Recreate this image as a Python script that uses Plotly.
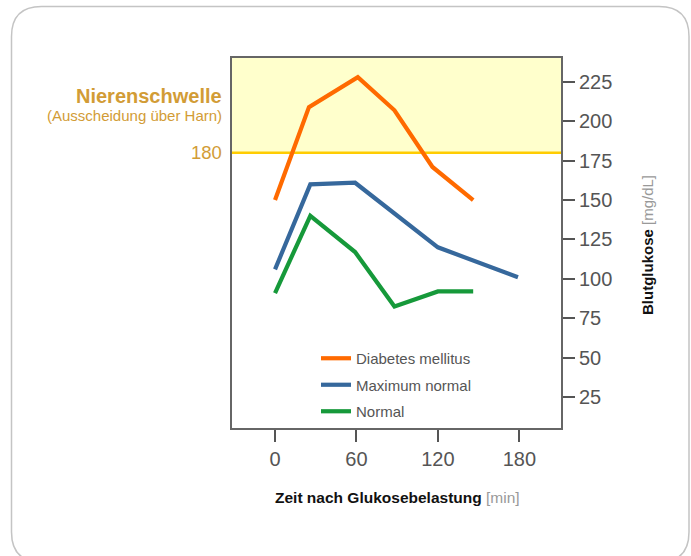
import plotly.graph_objects as go

# Blutglukose nach oraler Glukosebelastung
time_diabetes = [0, 25, 61, 88, 116, 146]
glucose_diabetes = [150, 209, 228, 207, 171, 150]

time_maxnormal = [0, 26, 59, 120, 179]
glucose_maxnormal = [106, 160, 161, 120, 101]

time_normal = [0, 26, 59, 88, 120, 146]
glucose_normal = [91, 140, 117, 82.5, 92, 92]

x_ticks = [0, 60, 120, 180]
y_ticks = [25, 50, 75, 100, 125, 150, 175, 200, 225]
threshold = 180

FONT = "Liberation Sans, Arial, sans-serif"
GOLD = "#d29c36"
W, H = 691, 556
ML, MR, MT, MB = 232, 130, 58, 128
PW, PH = W - ML - MR, H - MT - MB


def px(x):
    return (x - ML) / PW


def py(y):
    return (H - MB - y) / PH


fig = go.Figure()

fig.add_trace(go.Scatter(x=time_diabetes, y=glucose_diabetes, mode='lines',
                         name='Diabetes mellitus', legendgroup='a',
                         line=dict(color='#ff6a00', width=4.2)))
fig.add_trace(go.Scatter(x=time_maxnormal, y=glucose_maxnormal, mode='lines',
                         name='Maximum normal', legendgroup='b',
                         line=dict(color='#36689c', width=4.2)))
fig.add_trace(go.Scatter(x=time_normal, y=glucose_normal, mode='lines',
                         name='Normal', legendgroup='c',
                         line=dict(color='#16993a', width=4.2)))

# yellow zone above renal threshold
fig.add_shape(type='rect', xref='paper', yref='y', x0=0, x1=1,
              y0=threshold, y1=260, fillcolor='#ffffcc', line_width=0,
              layer='below')
fig.add_shape(type='line', xref='paper', yref='y', x0=0, x1=1,
              y0=threshold, y1=threshold, line=dict(color='#ffcc00', width=2.5),
              layer='below')

# rounded card border
l, r, t, b, rad = 11.5, 689, 6.5, 562, 30
path = (f"M {px(l + rad)},{py(t)} L {px(r - rad)},{py(t)} "
        f"Q {px(r)},{py(t)} {px(r)},{py(t + rad)} "
        f"L {px(r)},{py(b - rad)} Q {px(r)},{py(b)} {px(r - rad)},{py(b)} "
        f"L {px(l + rad)},{py(b)} Q {px(l)},{py(b)} {px(l)},{py(b - rad)} "
        f"L {px(l)},{py(t + rad)} Q {px(l)},{py(t)} {px(l + rad)},{py(t)} Z")
fig.add_shape(type='path', xref='paper', yref='paper', path=path,
              line=dict(color='#c4c4c4', width=1.5), layer='below')

fig.add_annotation(text='<b>Nierenschwelle</b>', xref='paper', yref='y',
                   x=0, y=216, xshift=-8, xanchor='right', yanchor='middle',
                   showarrow=False, font=dict(size=20, color=GOLD))
fig.add_annotation(text='(Ausscheidung über Harn)', xref='paper', yref='y',
                   x=0, y=203.5, xshift=-8, xanchor='right', yanchor='middle',
                   showarrow=False, font=dict(size=15, color=GOLD))
fig.add_annotation(text='180', xref='paper', yref='y',
                   x=0, y=threshold, xshift=-8, xanchor='right', yanchor='middle',
                   showarrow=False, font=dict(size=18.5, color=GOLD))

fig.add_annotation(text='<b>Zeit nach Glukosebelastung</b> <span style="color:#999999">[min]</span>',
                   xref='paper', yref='paper', x=px(397), y=py(497),
                   xanchor='center', yanchor='middle', showarrow=False,
                   font=dict(size=15.5, color='#111111'))
fig.add_annotation(text='<b>Blutglukose</b> <span style="color:#999999">[mg/dL]</span>',
                   xref='paper', yref='paper', x=px(648), y=py(245),
                   textangle=-90, xanchor='center', yanchor='middle',
                   showarrow=False, font=dict(size=15, color='#111111'))

fig.update_xaxes(range=[-31.7, 210.7], tickvals=x_ticks, showgrid=False,
                 zeroline=False, showline=True, mirror=True,
                 linecolor='#666666', linewidth=2, ticks='outside',
                 ticklen=12, tickwidth=1.5, tickcolor='#555555',
                 tickfont=dict(size=20, color='#555555'))
fig.update_yaxes(range=[5.3, 240.2], tickvals=y_ticks, side='right',
                 showgrid=False, zeroline=False, showline=True, mirror=True,
                 linecolor='#666666', linewidth=2, ticks='outside',
                 ticklen=12, tickwidth=1.5, tickcolor='#555555',
                 tickfont=dict(size=20, color='#555555'))

fig.update_layout(
    width=W, height=H, autosize=False,
    margin=dict(l=ML, r=MR, t=MT, b=MB),
    paper_bgcolor='white', plot_bgcolor='white',
    font=dict(family=FONT),
    legend=dict(x=px(316), y=py(342), xanchor='left', yanchor='top',
                bgcolor='rgba(0,0,0,0)', tracegroupgap=4,
                font=dict(size=15, color='#555555')),
)

# page body margin removed so the figure sits at the window origin
fig.write_html("out.html", config={'displayModeBar': False},
               post_script="document.body.style.margin='0';")
